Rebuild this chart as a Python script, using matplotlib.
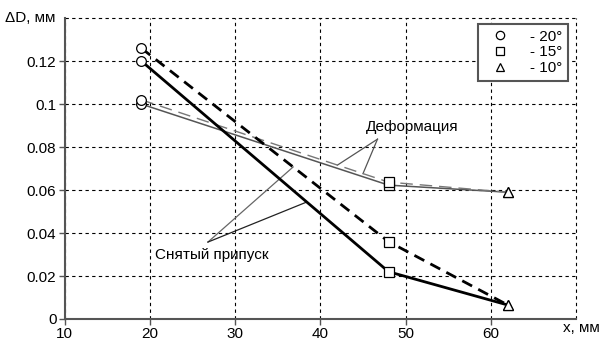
import numpy as np
import matplotlib.pyplot as plt
from matplotlib.lines import Line2D

plt.rcParams['font.family'] = ['Liberation Sans', 'DejaVu Sans']

# data
x = [19, 48, 62]
removed_solid = [0.120, 0.022, 0.0065]
removed_dashed = [0.126, 0.036, 0.0065]
deform_solid = [0.100, 0.0623, 0.059]
deform_dashed = [0.102, 0.0637, 0.059]
angle_labels = ['- 20°', '- 15°', '- 10°']
angle_markers = ['o', 's', '^']
x_ticks = [10, 20, 30, 40, 50, 60]
y_ticks = [0, 0.02, 0.04, 0.06, 0.08, 0.1, 0.12]
y_tick_labels = ['0', '0.02', '0.04', '0.06', '0.08', '0.1', '0.12']

FS = 11

fig = plt.figure(figsize=(6, 3.43), dpi=100)
ax = fig.add_axes([0.108, 0.07, 0.852, 0.877])

# deformation (thin lines)
ax.plot(x, deform_solid, color='#555555', lw=1.1, zorder=3)
ax.plot(x, deform_dashed, color='#777777', lw=1.0, dashes=(9, 5), zorder=3)
# removed allowance (thick lines)
ax.plot(x, removed_solid, color='black', lw=2.0, zorder=3)
ax.plot(x, removed_dashed, color='black', lw=2.0, dashes=(4, 2.5), zorder=3)

# markers: one shape per x position
for i, m in enumerate(angle_markers):
    ys = [removed_solid[i], removed_dashed[i], deform_solid[i], deform_dashed[i]]
    ax.plot([x[i]] * len(ys), ys, ls='none', marker=m, ms=7,
            mfc='white', mec='black', mew=0.9, zorder=4)

# pointer lines for the labels
def_tip = (46.7, 0.0837)
for px in [42.0, 45.0]:
    py = np.interp(px, x, deform_dashed)
    ax.plot([def_tip[0], px], [def_tip[1], py], color='#555555', lw=0.9, zorder=2)
ax.text(50.8, 0.0895, 'Деформация', ha='center', va='center', fontsize=FS)

rem_tip = (26.8, 0.0358)
ax.plot([rem_tip[0], 36.8], [rem_tip[1], np.interp(36.8, x, removed_dashed)],
        color='#666666', lw=0.9, zorder=2)
ax.plot([rem_tip[0], 38.4], [rem_tip[1], np.interp(38.4, x, removed_solid)],
        color='#222222', lw=0.9, zorder=2)
ax.text(27.3, 0.0298, 'Снятый припуск', ha='center', va='center', fontsize=FS)

ax.set_xlim(10, 70)
ax.set_ylim(0, 0.14)
ax.set_xticks(x_ticks)
ax.set_yticks(y_ticks)
ax.set_yticklabels(y_tick_labels)
ax.tick_params(labelsize=FS, length=4, width=1, color='#555555', pad=2)

ax.grid(True, color='black', lw=0.8, ls=(0, (3, 3)))
# dashed grid lines at the top and right edges
ax.axhline(0.14, color='black', lw=0.8, ls=(0, (3, 3)), clip_on=False)
ax.axvline(70, color='black', lw=0.8, ls=(0, (3, 3)), clip_on=False)
ax.spines['top'].set_visible(False)
ax.spines['right'].set_visible(False)
for s in ['left', 'bottom']:
    ax.spines[s].set_color('#555555')
    ax.spines[s].set_linewidth(1.5)

fig.text(0.008, 0.948, 'ΔD, мм', ha='left', va='center', fontsize=FS)
fig.text(1.0, 0.045, 'x, мм', ha='right', va='center', fontsize=FS)

handles = [Line2D([], [], ls='none', marker=m, ms=6, mfc='white', mec='black', mew=0.9)
           for m in angle_markers]
leg = ax.legend(handles, angle_labels, loc='upper right', bbox_to_anchor=(0.984, 0.98),
                borderaxespad=0, fontsize=FS, fancybox=False, framealpha=1,
                handletextpad=0.9, borderpad=0.35, labelspacing=0.12,
                handlelength=2.2)
leg.get_frame().set_edgecolor('#555555')
leg.get_frame().set_linewidth(1.5)

fig.savefig('out.png', dpi=100)
